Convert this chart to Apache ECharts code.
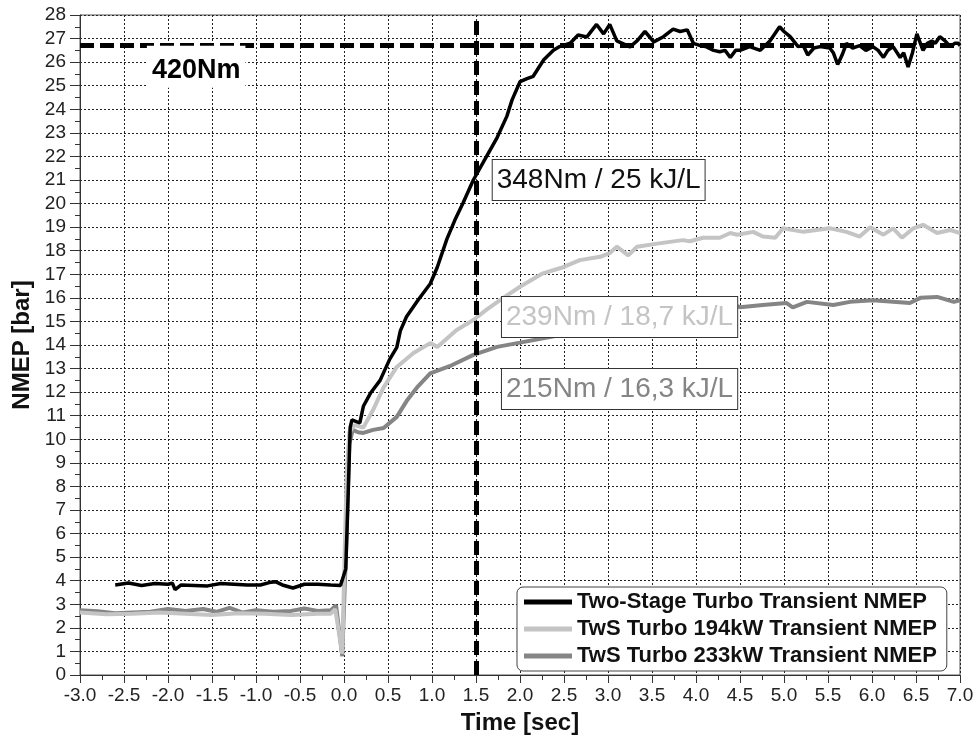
<!DOCTYPE html>
<html><head><meta charset="utf-8">
<script src="https://cdn.jsdelivr.net/npm/echarts@6/dist/echarts.min.js"></script>
<style>html,body{margin:0;padding:0;background:#fff}#c{width:977px;height:742px}</style>
</head><body><div id="c"></div>
<script>
const seriesNames = ['Two-Stage Turbo Transient NMEP', 'TwS Turbo 194kW Transient NMEP', 'TwS Turbo 233kW Transient NMEP'];

const tTwoStage = [-2.6,-2.45,-2.3,-2.15,-2.0,-1.95,-1.92,-1.85,-1.7,-1.55,-1.4,-1.25,-1.1,-0.95,-0.85,-0.78,-0.7,-0.58,-0.45,-0.3,-0.15,-0.04,
  0.02,0.05,0.07,0.09,0.14,0.18,0.22,0.30,0.41,0.52,0.60,0.64,0.71,0.84,0.98,1.06,1.17,1.26,1.35,1.47,1.62,1.74,1.85,1.91,
  2.0,2.08,2.15,2.27,2.38,2.45,2.57,2.66,2.76,2.87,2.95,3.02,3.10,3.25,3.33,3.42,3.52,3.63,3.74,3.82,3.90,3.97,4.05,4.12,4.2,4.27,4.33,4.39,4.45,
  4.5,4.61,4.73,4.84,4.95,5.0,5.07,5.16,5.22,5.27,5.34,5.41,5.52,5.56,5.61,5.66,5.71,5.78,5.86,5.93,6.01,6.07,6.13,6.18,6.24,6.32,6.36,6.41,6.46,
  6.51,6.55,6.58,6.63,6.68,6.72,6.77,6.83,6.89,6.94,6.98,7.0];
const vTwoStage = [3.82,3.9,3.8,3.88,3.85,3.9,3.62,3.82,3.8,3.78,3.88,3.85,3.82,3.82,3.92,3.96,3.82,3.69,3.85,3.85,3.82,3.8,
  4.5,8.0,10.5,10.82,10.75,10.7,11.4,11.95,12.5,13.4,13.9,14.6,15.2,15.9,16.6,17.3,18.5,19.3,20.0,21.0,22.0,22.8,23.7,24.4,
  25.17,25.3,25.4,26.1,26.5,26.66,26.8,27.15,27.07,27.6,27.2,27.6,26.9,26.65,26.9,27.3,26.86,27.08,27.4,27.3,27.37,26.8,26.7,26.65,26.5,26.44,26.5,26.2,26.5,
  26.5,26.66,26.5,26.9,27.5,27.3,27.08,26.66,26.7,26.3,26.6,26.66,26.6,26.4,25.9,26.3,26.8,26.6,26.7,26.5,26.66,26.5,26.2,26.5,26.66,26.2,26.4,25.8,26.4,
  27.2,26.8,26.5,26.8,26.9,26.8,27.08,26.9,26.66,26.8,26.8,26.7];

const t194 = [-3.0,-2.7,-2.4,-2.1,-1.8,-1.5,-1.2,-0.9,-0.6,-0.3,-0.15,-0.1,-0.02,0.03,0.06,0.12,0.22,0.33,0.45,0.6,0.79,0.98,1.06,1.28,1.47,1.62,1.81,2.0,2.26,2.49,2.68,2.91,3.02,3.10,3.23,3.33,3.56,3.85,3.93,4.08,4.27,4.39,4.47,4.65,4.76,4.9,4.99,5.22,5.52,5.71,5.86,5.98,6.13,6.24,6.34,6.47,6.58,6.74,6.89,7.0];
const v194 = [2.65,2.58,2.6,2.65,2.6,2.55,2.62,2.6,2.55,2.6,2.6,2.8,0.9,8.5,10.3,10.6,10.5,11.24,12.2,13.07,13.66,14.08,13.92,14.64,15.06,15.5,16.0,16.47,17.04,17.3,17.6,17.74,17.9,18.17,17.8,18.17,18.3,18.45,18.4,18.55,18.55,18.75,18.68,18.8,18.6,18.55,18.95,18.8,18.95,18.8,18.6,19.0,18.68,18.95,18.55,18.95,19.1,18.75,18.88,18.75];

const t233 = [-3.0,-2.8,-2.6,-2.4,-2.2,-2.0,-1.8,-1.6,-1.45,-1.3,-1.15,-1.0,-0.8,-0.6,-0.45,-0.3,-0.15,-0.09,-0.02,0.03,0.06,0.1,0.16,0.22,0.33,0.45,0.6,0.72,0.83,0.98,1.2,1.47,1.74,2.0,2.34,2.7,3.1,3.5,3.9,4.2,4.47,4.5,4.76,5.03,5.1,5.26,5.56,5.75,6.01,6.2,6.43,6.55,6.74,6.93,7.0];
const v233 = [2.75,2.7,2.62,2.65,2.68,2.8,2.72,2.8,2.68,2.85,2.65,2.75,2.68,2.72,2.82,2.72,2.75,2.95,0.8,6.0,9.8,10.4,10.3,10.27,10.4,10.48,10.95,11.67,12.2,12.8,13.1,13.58,13.92,14.1,14.34,14.6,14.9,15.15,15.4,15.55,15.65,15.6,15.7,15.78,15.6,15.83,15.7,15.83,15.9,15.85,15.78,16.0,16.04,15.83,15.9];

const refTime = 1.5;
const refNmep = 26.7;

const notes = ['420Nm', '348Nm / 25 kJ/L', '239Nm / 18,7 kJ/L', '215Nm / 16,3 kJ/L'];
const noteAnchorT = [-2.24, 1.69, 1.795, 1.795];
const noteAnchorV = [26.7, 21.85, 16.04, 12.98];

const FONT = "'Liberation Sans', Arial, sans-serif";
const colors = ['#000000', '#c4c4c4', '#858585'];
const widths = [3.5, 4, 4];
const tArr = [tTwoStage, t194, t233];
const vArr = [vTwoStage, v194, v233];

const chart = echarts.init(document.getElementById('c'), null, {renderer: 'canvas'});

const series = seriesNames.map((n, i) => ({
  name: n, type: 'line', showSymbol: false, symbol: 'none',
  data: tArr[i].map((t, k) => [t, vArr[i][k]]),
  lineStyle: {color: colors[i], width: widths[i]},
  itemStyle: {color: colors[i]},
  z: 5 - i,
  animation: false
}));
series[0].markLine = {
  silent: true, symbol: 'none', animation: false,
  label: {show: false},
  lineStyle: {color: '#000', width: 5, type: [14, 6]},
  data: [{xAxis: refTime}, {yAxis: refNmep}]
};

chart.setOption({
  animation: false,
  backgroundColor: '#fff',
  textStyle: {fontFamily: FONT},
  grid: {left: 80, right: 17, top: 15, bottom: 67, show: true, borderColor: '#555', borderWidth: 1},
  xAxis: {
    type: 'value', min: -3, max: 7, interval: 0.5,
    name: 'Time [sec]', nameLocation: 'middle', nameGap: 36,
    nameTextStyle: {fontFamily: FONT, fontSize: 24, fontWeight: 'bold', color: '#111'},
    axisLine: {show: true, onZero: false, lineStyle: {color: '#333'}},
    axisTick: {show: true, length: 8, lineStyle: {color: '#333'}},
    minorTick: {show: true, splitNumber: 2, length: 5, lineStyle: {color: '#333'}},
    axisLabel: {fontFamily: FONT, fontSize: 19, color: '#222', margin: 11, formatter: v => v.toFixed(1)},
    splitLine: {show: true, lineStyle: {color: '#222', width: 1, type: [2, 2]}}
  },
  yAxis: {
    type: 'value', min: 0, max: 28, interval: 1,
    name: 'NMEP [bar]', nameLocation: 'middle', nameGap: 46, nameRotate: 90,
    nameTextStyle: {fontFamily: FONT, fontSize: 24, fontWeight: 'bold', color: '#111'},
    axisLine: {show: true, onZero: false, lineStyle: {color: '#333'}},
    axisTick: {show: true, length: 10, lineStyle: {color: '#333'}},
    minorTick: {show: true, splitNumber: 2, length: 5, lineStyle: {color: '#333'}},
    axisLabel: {fontFamily: FONT, fontSize: 19, color: '#222', margin: 14},
    splitLine: {show: true, lineStyle: {color: '#222', width: 1, type: [2, 2]}}
  },
  legend: {
    data: seriesNames, orient: 'vertical', left: 517, top: 587,
    backgroundColor: '#fff', borderColor: '#444', borderWidth: 1, borderRadius: 6,
    padding: [4, 10, 4, 7], itemGap: 5, itemWidth: 48, itemHeight: 5, icon: 'rect',
    textStyle: {fontFamily: FONT, fontSize: 22, fontWeight: 'bold', color: '#111', lineHeight: 22},
    selectedMode: false
  },
  series: series
});

const noteStyles = [
  {font: 'bold 27px ' + FONT, fill: '#000', borderWidth: 0, padding: [11, 5, 4, 5]},
  {font: '28px ' + FONT, fill: '#111', borderWidth: 1, padding: [6, 4, 6, 4]},
  {font: '28px ' + FONT, fill: '#c4c4c4', borderWidth: 1, padding: [6, 4, 6, 4]},
  {font: '28px ' + FONT, fill: '#858585', borderWidth: 1, padding: [6, 4, 6, 4]}
];
const graphics = notes.map((txt, i) => {
  const p = chart.convertToPixel({gridIndex: 0}, [noteAnchorT[i], noteAnchorV[i]]);
  const s = noteStyles[i];
  return {
    type: 'text', x: p[0], y: p[1], z: 100,
    style: {
      text: txt, font: s.font, fill: s.fill,
      backgroundColor: '#fff', borderColor: '#333', borderWidth: s.borderWidth,
      padding: s.padding, verticalAlign: 'top', align: 'left'
    }
  };
});
chart.setOption({graphic: graphics});
</script>
</body></html>
